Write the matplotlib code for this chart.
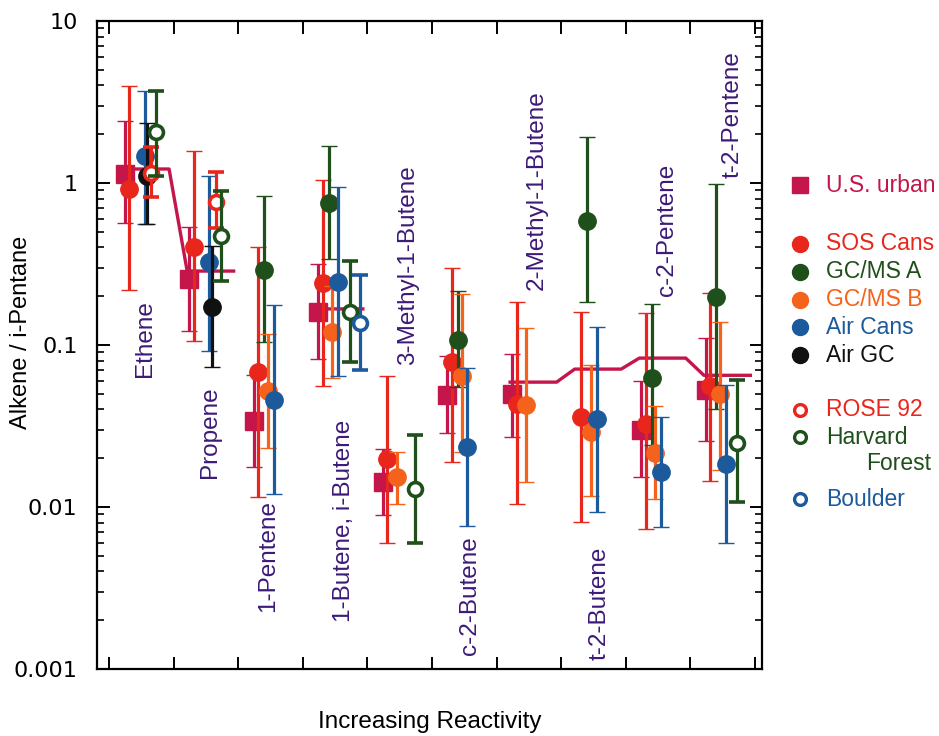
import numpy as np
import matplotlib.pyplot as plt
from matplotlib.ticker import FixedLocator, FixedFormatter, LogLocator, NullFormatter

plt.rcParams['font.family'] = ['Liberation Sans', 'DejaVu Sans']

compounds = ['Ethene', 'Propene', '1-Pentene', '1-Butene, i-Butene', '3-Methyl-1-Butene',
             'c-2-Butene', '2-Methyl-1-Butene', 't-2-Butene', 'c-2-Pentene', 't-2-Pentene']

# alkene / i-pentane ratios: central value, lower and upper end of each range
urban_val = [1.14, 0.255, 0.034, 0.16, 0.0142, 0.049, 0.050, None, 0.030, 0.053]
urban_lo = [0.57, 0.122, 0.0176, 0.082, 0.0089, 0.0286, 0.027, None, 0.0153, 0.0256]
urban_hi = [2.4, 0.535, 0.065, 0.316, 0.0228, 0.085, 0.088, None, 0.060, 0.110]

sos_val = [0.92, 0.40, 0.068, 0.24, 0.0198, 0.078, 0.043, 0.036, 0.0325, 0.056]
sos_lo = [0.22, 0.106, 0.0115, 0.056, 0.006, 0.019, 0.0104, 0.0081, 0.0073, 0.0144]
sos_hi = [3.97, 1.58, 0.40, 1.04, 0.0645, 0.30, 0.184, 0.16, 0.157, 0.21]

gcms_a_val = [None, None, 0.29, 0.75, None, 0.108, None, 0.58, 0.063, 0.198]
gcms_a_lo = [None, None, 0.104, 0.34, None, 0.055, None, 0.184, 0.024, 0.040]
gcms_a_hi = [None, None, 0.83, 1.69, None, 0.215, None, 1.92, 0.18, 0.985]

gcms_b_val = [None, None, 0.052, 0.12, 0.0153, 0.064, 0.0425, 0.029, 0.0215, 0.050]
gcms_b_lo = [None, None, 0.023, 0.063, 0.0104, 0.022, 0.0142, 0.0117, 0.0112, 0.017]
gcms_b_hi = [None, None, 0.117, 0.23, 0.022, 0.206, 0.127, 0.075, 0.042, 0.139]

aircans_val = [1.47, 0.325, 0.046, 0.245, None, 0.0235, None, 0.035, 0.0165, 0.0184]
aircans_lo = [0.56, 0.092, 0.012, 0.064, None, 0.0076, None, 0.0093, 0.0075, 0.006]
aircans_hi = [3.7, 1.10, 0.176, 0.945, None, 0.072, None, 0.13, 0.036, 0.057]

airgc_val = [1.10, 0.171, None, None, None, None, None, None, None, None]
airgc_lo = [0.56, 0.073, None, None, None, None, None, None, None, None]
airgc_hi = [2.35, 0.41, None, None, None, None, None, None, None, None]

rose_val = [1.15, 0.76, None, None, None, None, None, None, None, None]
rose_lo = [0.82, 0.527, None, None, None, None, None, None, None, None]
rose_hi = [1.67, 1.17, None, None, None, None, None, None, None, None]

harvard_val = [2.06, 0.47, None, 0.16, 0.0129, None, None, None, None, 0.025]
harvard_lo = [1.10, 0.25, None, 0.078, 0.006, None, None, None, None, 0.0108]
harvard_hi = [3.7, 0.89, None, 0.33, 0.028, None, None, None, None, 0.061]

boulder_val = [None, None, None, 0.137, None, None, None, None, None, None]
boulder_lo = [None, None, None, 0.070, None, None, None, None, None, None]
boulder_hi = [None, None, None, 0.27, None, None, None, None, None, None]

# reactivity-scaled urban profile drawn as a stepped line
profile_val = [1.22, 0.286, None, 0.167, None, None, 0.059, 0.071, 0.083, 0.065]

CRIMSON = '#c4164a'
RED = '#e8261c'
GREEN = '#1f4f1a'
ORANGE = '#f4621c'
BLUE = '#1d5a9c'
BLACK = '#111111'
LABEL = '#3d1a78'

# name, values, lo, hi, colour, marker, filled, x offset inside a slot
series = [
    ('U.S. urban', urban_val, urban_lo, urban_hi, CRIMSON, 's', True, 0.24),
    ('SOS Cans', sos_val, sos_lo, sos_hi, RED, 'o', True, 0.31),
    ('GC/MS A', gcms_a_val, gcms_a_lo, gcms_a_hi, GREEN, 'o', True, 0.40),
    ('GC/MS B', gcms_b_val, gcms_b_lo, gcms_b_hi, ORANGE, 'o', True, 0.46),
    ('Air Cans', aircans_val, aircans_lo, aircans_hi, BLUE, 'o', True, 0.55),
    ('Air GC', airgc_val, airgc_lo, airgc_hi, BLACK, 'o', True, 0.59),
    ('ROSE 92', rose_val, rose_lo, rose_hi, RED, 'o', False, 0.65),
    ('Harvard Forest', harvard_val, harvard_lo, harvard_hi, GREEN, 'o', False, 0.73),
    ('Boulder', boulder_val, boulder_lo, boulder_hi, BLUE, 'o', False, 0.89),
]

fig = plt.figure(figsize=(9.39, 7.36), dpi=100)
fig.patch.set_facecolor('white')
ax = fig.add_axes([97 / 939, 1 - 669 / 736, 665 / 939, 648 / 736])

slots = np.arange(len(compounds))

# stepped profile line
px, py = [], []
for i, v in enumerate(profile_val):
    if v is None:
        px.append(np.nan)
        py.append(np.nan)
        continue
    px += [i + 0.21, i + 0.93]
    py += [v, v]
ax.plot(px, py, color=CRIMSON, lw=2.4, zorder=2.5)

for k, (name, vals, lo, hi, col, mk, filled, off) in enumerate(series):
    idx = [i for i, v in enumerate(vals) if v is not None]
    x = slots[idx] + off
    v = np.array([vals[i] for i in idx])
    l = np.array([lo[i] for i in idx])
    h = np.array([hi[i] for i in idx])
    if filled:
        kw = dict(ms=12.5, mfc=col, mec=col, mew=1)
    else:
        kw = dict(ms=10, mfc='white', mec=col, mew=2.6)
    ax.errorbar(x, v, yerr=[v - l, h - v], fmt=mk, color=col, ecolor=col,
                elinewidth=2.3, capsize=5.5, capthick=2.3, zorder=3 + k * 0.1, **kw)

# compound names, written upwards next to their group
label_dx = [0.56, 0.56, 0.46, 0.64, 0.63, 0.59, 0.63, 0.60, 0.64, 0.66]
label_y = [0.451, 0.295, 0.088, 0.073, 0.469, 0.022, 0.585, 0.014, 0.575, 0.758]
trans = ax.get_xaxis_transform()
for i, name in enumerate(compounds):
    ax.text(i + label_dx[i], label_y[i], name, rotation=90, ha='center', va='bottom',
            color=LABEL, fontsize=17.5, transform=trans, zorder=6)

ax.set_yscale('log')
ax.set_ylim(0.001, 10)
ax.set_xlim(-0.186, 10.11)
ax.xaxis.set_major_locator(FixedLocator(np.arange(0, 11)))
ax.xaxis.set_major_formatter(NullFormatter())
ax.yaxis.set_major_locator(FixedLocator([0.001, 0.01, 0.1, 1, 10]))
ax.yaxis.set_major_formatter(FixedFormatter(['0.001', '0.01', '0.1', '1', '10']))
ax.yaxis.set_minor_locator(LogLocator(base=10, subs=np.arange(2, 10)))
ax.yaxis.set_minor_formatter(NullFormatter())
ax.tick_params(axis='both', which='major', direction='in', top=True, right=True,
               length=9, width=1.4, color='black')
ax.tick_params(axis='y', which='minor', direction='in', left=True, right=True,
               length=5, width=1.2)
ax.tick_params(axis='y', which='major', pad=14, labelsize=16)
for lbl in ax.get_yticklabels():
    lbl.set_family('DejaVu Sans')
for s in ax.spines.values():
    s.set_linewidth(1.6)

ax.set_ylabel('Alkene / i-Pentane', fontsize=17)
ax.yaxis.set_label_coords(-0.098, 0.52)
fig.text(430 / 939, 1 - 722 / 736, 'Increasing Reactivity', ha='center', va='center',
         fontsize=17.5)

# key on the right, drawn in pixel coordinates
key = fig.add_axes([0, 0, 1, 1])
key.set_xlim(0, 939)
key.set_ylim(736, 0)
key.axis('off')
key.patch.set_alpha(0)
key_rows = [
    ('U.S. urban', CRIMSON, 's', True, 185),
    ('SOS Cans', RED, 'o', True, 244),
    ('GC/MS A', GREEN, 'o', True, 272),
    ('GC/MS B', ORANGE, 'o', True, 300),
    ('Air Cans', BLUE, 'o', True, 327),
    ('Air GC', BLACK, 'o', True, 355),
    ('ROSE 92', RED, 'o', False, 410),
    ('Harvard', GREEN, 'o', False, 437),
    ('Boulder', BLUE, 'o', False, 499),
]
for text, col, mk, filled, y in key_rows:
    if filled:
        key.plot([800], [y], marker=mk, ms=11.5, mfc=col, mec=col, ls='none')
    else:
        key.plot([800], [y], marker=mk, ms=8.5, mfc='white', mec=col, mew=2.4, ls='none')
    key.text(826, y, text, color=col, fontsize=16.5, va='center', ha='left')
key.text(866, 464, 'Forest', color=GREEN, fontsize=16.5, va='center', ha='left')

fig.savefig('out.png', dpi=100)
